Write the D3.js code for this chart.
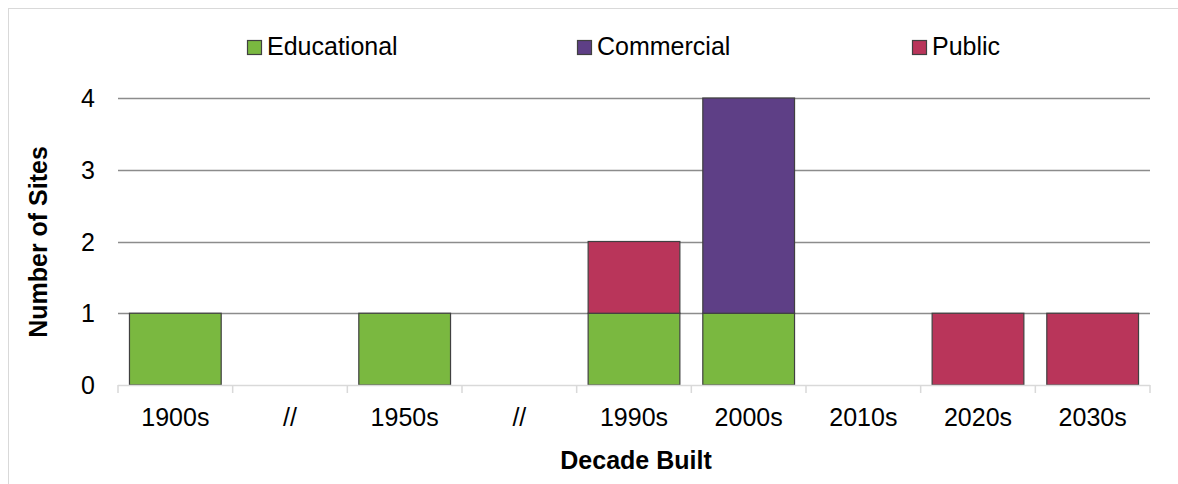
<!DOCTYPE html>
<html><head><meta charset="utf-8">
<script src="https://cdn.jsdelivr.net/npm/d3@7"></script>
<style>body{margin:0;background:#fff;font-family:Arial,"Liberation Sans",sans-serif;}</style>
</head><body>
<svg id="c" width="1178" height="484"></svg>
<script>
const categories = ["1900s","//","1950s","//","1990s","2000s","2010s","2020s","2030s"];
const seriesNames = ["Educational","Commercial","Public"];
const educational = [1,0,1,0,1,1,0,0,0];
const commercial  = [0,0,0,0,0,3,0,0,0];
const publicVals  = [0,0,0,0,1,0,0,1,1];
const yTicks = [0,1,2,3,4];
const colors = ["#7AB840","#5E3F86","#B9355A"];

(function(){
const svg = d3.select("#c");
const font = "Arial, 'Liberation Sans', sans-serif";
const fs = 25;
svg.append("rect").attr("x",8.5).attr("y",8.5).attr("width",1180).attr("height",490)
  .attr("fill","#fff").attr("stroke","#d9d9d9").attr("stroke-width",1);

const pL=118, pR=1150, pT=98, pB=385;
const x = d3.scaleBand().domain(d3.range(categories.length)).range([pL,pR]).paddingInner(0.2).paddingOuter(0.1);
const y = d3.scaleLinear().domain([0,4]).range([pB,pT]);

svg.append("g").selectAll("line").data(yTicks.filter(d=>d>0)).join("line")
  .attr("x1",pL).attr("x2",pR).attr("y1",d=>Math.round(y(d))+0.5).attr("y2",d=>Math.round(y(d))+0.5)
  .attr("stroke","#8c8c8c").attr("stroke-width",1.5);

const rows = categories.map((c,i)=>({i, Educational:educational[i], Commercial:commercial[i], Public:publicVals[i]}));
const stack = d3.stack().keys(seriesNames)(rows);
stack.forEach((s,k)=>{
  svg.append("g").selectAll("rect").data(s.filter(d=>d[1]-d[0]>0)).join("rect")
    .attr("x",d=>x(d.data.i)).attr("width",x.bandwidth())
    .attr("y",d=>y(d[1])).attr("height",d=>y(d[0])-y(d[1]))
    .attr("fill",colors[k]).attr("stroke","#404040").attr("stroke-width",1.2);
});

svg.append("line").attr("x1",pL).attr("x2",pR).attr("y1",pB+0.5).attr("y2",pB+0.5)
  .attr("stroke","#d9d9d9").attr("stroke-width",1.5);
svg.append("g").selectAll("line").data(d3.range(categories.length+1)).join("line")
  .attr("x1",d=>pL+d*(pR-pL)/categories.length).attr("x2",d=>pL+d*(pR-pL)/categories.length)
  .attr("y1",pB).attr("y2",pB+8).attr("stroke","#d9d9d9").attr("stroke-width",1.5);

svg.append("g").selectAll("text").data(categories).join("text")
  .attr("x",(d,i)=>x(i)+x.bandwidth()/2).attr("y",426)
  .attr("text-anchor","middle").attr("font-family",font).attr("font-size",fs).attr("fill","#000")
  .text(d=>d);

svg.append("g").selectAll("text").data(yTicks).join("text")
  .attr("x",95).attr("y",d=>y(d)+9).attr("text-anchor","end")
  .attr("font-family",font).attr("font-size",fs).attr("fill","#000").text(d=>d);

svg.append("text").attr("transform","translate(47,242) rotate(-90)").attr("text-anchor","middle")
  .attr("font-family",font).attr("font-size",fs).attr("font-weight","bold").text("Number of Sites");
svg.append("text").attr("x",636).attr("y",469).attr("text-anchor","middle")
  .attr("font-family",font).attr("font-size",fs).attr("font-weight","bold").text("Decade Built");

const legX = [247,577,912];
const lg = svg.append("g").selectAll("g").data(seriesNames).join("g")
  .attr("transform",(d,i)=>`translate(${legX[i]},0)`);
lg.append("rect").attr("x",0.5).attr("y",40.5).attr("width",14).attr("height",14)
  .attr("fill",(d,i)=>colors[i]).attr("stroke","#404040").attr("stroke-width",1.2);
lg.append("text").attr("x",20).attr("y",55).attr("font-family",font).attr("font-size",fs).text(d=>d);
})();
</script>
</body></html>
